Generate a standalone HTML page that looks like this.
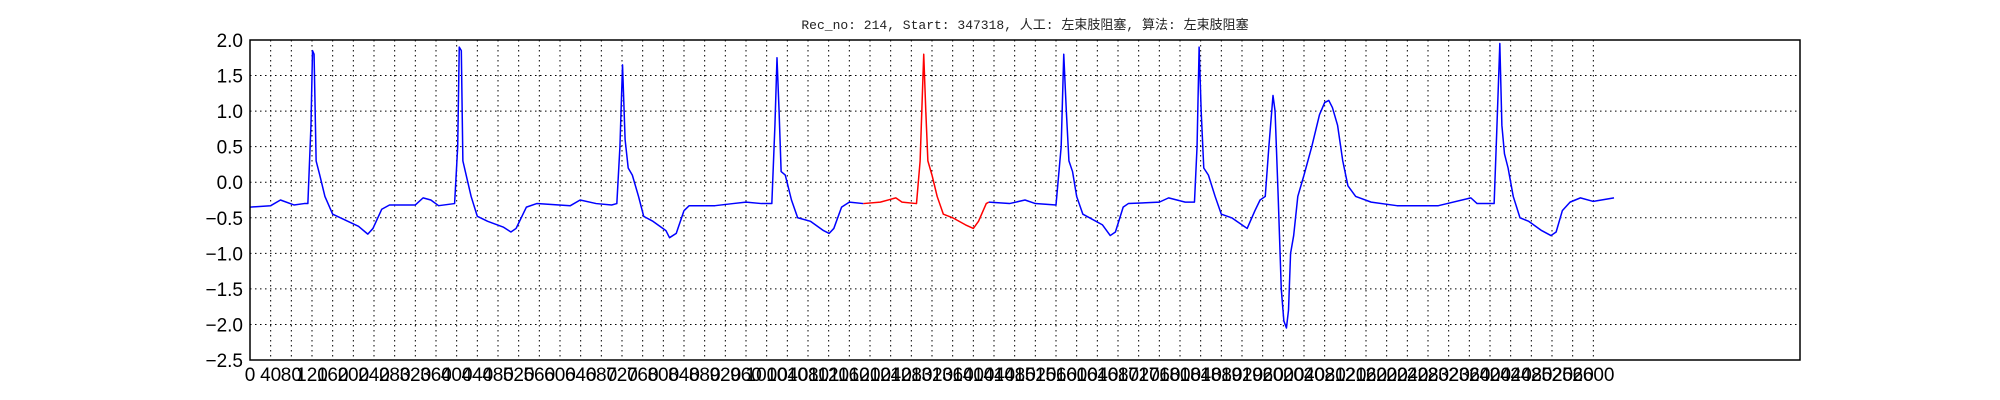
<!DOCTYPE html>
<html><head><meta charset="utf-8"><style>
html,body{margin:0;padding:0;background:#fff;}
svg{display:block;}
</style></head><body>
<svg id="chart" width="2000" height="400" xmlns="http://www.w3.org/2000/svg">
<text x="1025" y="29" text-anchor="middle" font-family="'Liberation Mono','Noto Sans CJK SC',monospace" font-size="13" fill="#222">Rec_no: 214, Start: 347318, 人工: 左束肢阻塞, 算法: 左束肢阻塞</text>
<g id="grid"></g>
<g id="series"></g>
<rect x="250" y="40" width="1550" height="320" fill="none" stroke="#000" stroke-width="1.5"/>
<g id="ticks"></g>
</svg>
<script>
const sampleIdx = [0,40,59,85,105,112,118,121,124,128,135,145,160,175,210,228,238,255,270,320,335,350,365,396,402,405,409,412,420,428,440,460,490,505,515,535,555,620,639,670,700,710,716,721,726,732,740,752,762,780,805,812,825,840,850,900,935,960,990,1010,1016,1020,1024,1028,1036,1048,1060,1085,1110,1121,1130,1145,1160,1187,1220,1250,1262,1290,1297,1304,1308,1312,1320,1330,1342,1360,1385,1400,1410,1425,1430,1470,1500,1520,1560,1570,1575,1580,1585,1592,1600,1612,1625,1650,1665,1675,1690,1700,1760,1778,1810,1828,1833,1837,1841,1846,1855,1868,1880,1900,1920,1930,1945,1955,1965,1972,1980,1984,1990,1996,2001,2006,2010,2014,2020,2028,2040,2055,2070,2080,2088,2095,2105,2115,2125,2140,2170,2220,2300,2363,2375,2395,2408,2413,2419,2423,2428,2435,2445,2458,2475,2500,2518,2528,2540,2555,2575,2600,2640];
const sampleVal = [-0.35,-0.33,-0.25,-0.32,-0.3,-0.3,0.8,1.85,1.8,0.3,0.1,-0.2,-0.45,-0.5,-0.62,-0.73,-0.65,-0.38,-0.32,-0.32,-0.22,-0.25,-0.33,-0.3,0.5,1.9,1.85,0.3,0.05,-0.2,-0.48,-0.55,-0.63,-0.7,-0.65,-0.35,-0.3,-0.33,-0.25,-0.3,-0.32,-0.3,0.5,1.65,0.6,0.2,0.1,-0.2,-0.48,-0.55,-0.68,-0.78,-0.72,-0.4,-0.33,-0.33,-0.3,-0.28,-0.3,-0.3,0.8,1.75,1.0,0.15,0.1,-0.25,-0.5,-0.55,-0.68,-0.72,-0.65,-0.35,-0.28,-0.3,-0.28,-0.22,-0.28,-0.3,0.3,1.8,1.0,0.3,0.1,-0.2,-0.45,-0.5,-0.6,-0.65,-0.55,-0.3,-0.28,-0.3,-0.25,-0.3,-0.32,0.5,1.8,1.0,0.3,0.15,-0.2,-0.45,-0.5,-0.6,-0.75,-0.7,-0.35,-0.3,-0.28,-0.22,-0.28,-0.28,0.5,1.9,1.0,0.2,0.1,-0.2,-0.45,-0.5,-0.6,-0.65,-0.4,-0.25,-0.2,0.5,1.22,1.0,-0.2,-1.5,-1.95,-2.05,-1.8,-1.0,-0.75,-0.2,0.1,0.5,0.95,1.12,1.15,1.05,0.8,0.3,-0.05,-0.2,-0.28,-0.33,-0.33,-0.22,-0.3,-0.3,-0.3,0.7,1.95,0.8,0.4,0.2,-0.2,-0.5,-0.55,-0.68,-0.75,-0.7,-0.4,-0.28,-0.22,-0.27,-0.22];
const highlightRange = [1187, 1430];
const yTicks = [2.0,1.5,1.0,0.5,0.0,-0.5,-1.0,-1.5,-2.0,-2.5];
const xTickStep = 40, xTickMax = 2600;
const X0=250, X1=1800, Y0=40, Y1=360, XMAX=3000, YMIN=-2.5, YMAX=2.0;
const xs = v => X0 + v/XMAX*(X1-X0);
const ys = v => Y0 + (YMAX-v)/(YMAX-YMIN)*(Y1-Y0);
const NS='http://www.w3.org/2000/svg';
const grid=document.getElementById('grid'), ticks=document.getElementById('ticks'), series=document.getElementById('series');
function mk(tag,attrs,parent){const e=document.createElementNS(NS,tag);for(const k in attrs)e.setAttribute(k,attrs[k]);parent.appendChild(e);return e;}
for(const v of yTicks){
  const y=ys(v);
  const g=mk('line',{x1:X0,x2:X1,y1:y,y2:y,stroke:'#000','stroke-width':1,'stroke-dasharray':'1.5,3.5'},grid);
  
  
  const t=mk('text',{x:X0-7,y:y+7,'text-anchor':'end','font-family':'Liberation Sans, sans-serif','font-size':19,fill:'#000'},ticks);
  t.textContent=(v<0?'\u2212':'')+Math.abs(v).toFixed(1);
  
  
}
for(let v=0;v<=xTickMax;v+=xTickStep){
  const x=xs(v);
  const g=mk('line',{x1:x,x2:x,y1:Y0,y2:Y1,stroke:'#000','stroke-width':1,'stroke-dasharray':'1.5,3.5'},grid);
  
  
  const t=mk('text',{x:x,y:Y1+21,'text-anchor':'middle','font-family':'Liberation Sans, sans-serif','font-size':19,fill:'#000'},ticks);
  t.textContent=String(v);
  
  
}
function pts(filter){return sampleIdx.map((s,i)=>[s,sampleVal[i]]).filter(filter).map(p=>xs(p[0]).toFixed(2)+','+ys(p[1]).toFixed(2)).join(' ');}
const segs=[
 [p=>p[0]<=highlightRange[0],'#0000ff','ecg-line-before'],
 [p=>p[0]>=highlightRange[0]&&p[0]<=highlightRange[1],'#ff0000','ecg-line-highlight'],
 [p=>p[0]>=highlightRange[1],'#0000ff','ecg-line-after']];
for(const [f,c,n] of segs){
  const pl=mk('polyline',{points:pts(f),fill:'none',stroke:c,'stroke-width':1.5,'stroke-linejoin':'round'},series);
  
  
}
</script>
</body></html>
